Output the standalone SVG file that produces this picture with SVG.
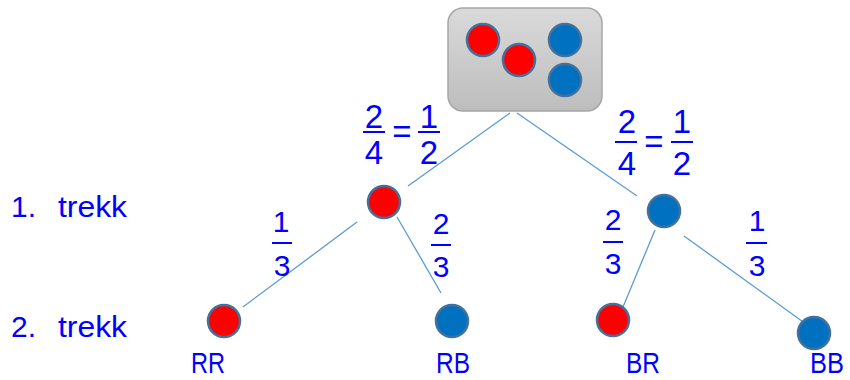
<svg xmlns="http://www.w3.org/2000/svg" width="850" height="380" viewBox="0 0 850 380">
<defs>
<linearGradient id="boxg" x1="0" y1="0" x2="0" y2="1">
<stop offset="0" stop-color="#dadada"/>
<stop offset="1" stop-color="#bdbdbd"/>
</linearGradient>
</defs>
<style>
.t{font-family:"Liberation Sans",Arial,sans-serif;fill:#0000ff;}
.big{font-size:33px;text-anchor:middle;}
.frac{font-size:30px;text-anchor:middle;}
.lbl{font-size:29px;}
.row{font-size:30px;}
.bar{stroke:#0000ff;stroke-width:2;}
.edge{stroke:#5b9bd5;stroke-width:1.3;fill:none;}
.red{fill:#ff0000;stroke:#41719c;stroke-width:2.5;}
.blue{fill:#0070c0;stroke:#41719c;stroke-width:2.5;}
</style>
<rect width="850" height="380" fill="#ffffff"/>
<g id="connectors">
<line class="edge" x1="510" y1="113" x2="408" y2="186"/>
<line class="edge" x1="517" y1="113" x2="637" y2="196"/>
<line class="edge" x1="357" y1="222" x2="243" y2="307"/>
<line class="edge" x1="397" y1="217" x2="441" y2="293"/>
<line class="edge" x1="655" y1="230" x2="623" y2="307"/>
<line class="edge" x1="684" y1="236" x2="806" y2="324"/>
</g>
<g id="urn">
<rect x="448" y="8" width="154" height="103" rx="15" ry="15" fill="url(#boxg)" stroke="#a6a6a6" stroke-width="1.5"/>
<circle class="red" cx="483" cy="40" r="16"/>
<circle class="red" cx="519" cy="60" r="16"/>
<circle class="blue" cx="565" cy="40" r="16"/>
<circle class="blue" cx="565" cy="80" r="16"/>
</g>
<g id="n1-red"><circle class="red" cx="384" cy="202" r="16"/></g>
<g id="n1-blue"><circle class="blue" cx="664" cy="211" r="16"/></g>
<g id="n2-RR"><circle class="red" cx="224" cy="321" r="16"/><text class="t lbl" x="191" y="373" textLength="34" lengthAdjust="spacingAndGlyphs">RR</text></g>
<g id="n2-RB"><circle class="blue" cx="452" cy="321" r="16"/><text class="t lbl" x="436" y="373" textLength="34" lengthAdjust="spacingAndGlyphs">RB</text></g>
<g id="n2-BR"><circle class="red" cx="613" cy="320" r="16"/><text class="t lbl" x="626" y="373" textLength="34" lengthAdjust="spacingAndGlyphs">BR</text></g>
<g id="n2-BB"><circle class="blue" cx="814" cy="333" r="16"/><text class="t lbl" x="810" y="373" textLength="34" lengthAdjust="spacingAndGlyphs">BB</text></g>
<g id="row-labels">
<text class="t row" x="11" y="217">1.</text>
<text class="t row" x="58" y="217" textLength="69" lengthAdjust="spacingAndGlyphs">trekk</text>
<text class="t row" x="11" y="337">2.</text>
<text class="t row" x="58" y="337" textLength="69" lengthAdjust="spacingAndGlyphs">trekk</text>
</g>
<g id="p-left">
<text class="t big" x="374" y="128">2</text>
<line class="bar" x1="363" y1="132" x2="385" y2="132"/>
<text class="t big" x="374" y="164">4</text>
<text class="t big" x="402" y="143">=</text>
<text class="t big" x="429" y="128">1</text>
<line class="bar" x1="418" y1="132" x2="440" y2="132"/>
<text class="t big" x="429" y="164">2</text>
</g>
<g id="p-right">
<text class="t big" x="627" y="133">2</text>
<line class="bar" x1="615" y1="142" x2="637" y2="142"/>
<text class="t big" x="627" y="175">4</text>
<text class="t big" x="654" y="153">=</text>
<text class="t big" x="682" y="133">1</text>
<line class="bar" x1="671" y1="142" x2="693" y2="142"/>
<text class="t big" x="682" y="175">2</text>
</g>
<g id="p-RR">
<text class="t frac" x="281" y="232">1</text>
<line class="bar" x1="272" y1="243" x2="292" y2="243"/>
<text class="t frac" x="282" y="276">3</text>
</g>
<g id="p-RB">
<text class="t frac" x="441" y="234">2</text>
<line class="bar" x1="431" y1="245" x2="451" y2="245"/>
<text class="t frac" x="441" y="277">3</text>
</g>
<g id="p-BR">
<text class="t frac" x="613" y="230">2</text>
<line class="bar" x1="603" y1="242" x2="623" y2="242"/>
<text class="t frac" x="613" y="274">3</text>
</g>
<g id="p-BB">
<text class="t frac" x="757" y="231">1</text>
<line class="bar" x1="746" y1="243" x2="767" y2="243"/>
<text class="t frac" x="757" y="276">3</text>
</g>
</svg>
